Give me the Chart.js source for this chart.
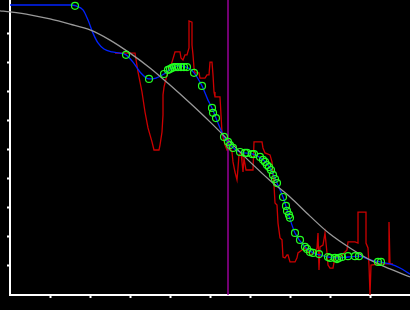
<!DOCTYPE html>
<html>
<head>
<meta charset="utf-8">
<script src="https://cdn.jsdelivr.net/npm/chart.js@4"></script>
<style>
  html, body { margin: 0; padding: 0; background: #000; }
  #wrap { width: 410px; height: 310px; }
</style>
</head>
<body>
<div id="wrap"><canvas id="fitChart"></canvas></div>
<script>
// smooth reference curve (grey)
const greyX = [-0.25, 0, 0.5, 1, 1.5, 2, 2.5, 3, 3.5, 4, 4.5, 5, 5.5, 6, 6.5, 7, 7.5, 8, 8.5, 9, 9.5, 10];
const greyY = [9.80, 9.76, 9.66, 9.52, 9.34, 9.14, 8.79, 8.34, 7.83, 7.24, 6.62, 5.97, 5.28, 4.59, 3.95, 3.38, 2.72, 2.10, 1.62, 1.21, 0.90, 0.62];

// fitted curve (blue)
const blueX = [0, 1.5, 1.65, 1.825, 1.95, 2.075, 2.2, 2.35, 2.55, 2.75, 2.9, 3.075, 3.25, 3.475, 3.65, 3.85, 4.05, 4.25, 4.45, 4.6, 4.8, 4.95, 5.05, 5.15, 5.25, 5.35, 5.5, 5.75, 6.075, 6.325, 6.5, 6.675, 6.825, 6.975, 7.125, 7.375, 7.575, 7.75, 8.125, 8.45, 8.725, 9.0, 9.25, 9.5, 9.75, 10];
const blueY = [10.0, 10.0, 9.97, 9.83, 9.48, 9.03, 8.69, 8.48, 8.38, 8.34, 8.28, 8.03, 7.69, 7.45, 7.48, 7.62, 7.83, 7.90, 7.83, 7.66, 7.21, 6.72, 6.45, 6.10, 5.76, 5.45, 5.17, 4.93, 4.86, 4.66, 4.38, 3.86, 3.38, 2.72, 2.14, 1.66, 1.45, 1.38, 1.28, 1.31, 1.34, 1.21, 1.14, 1.07, 0.93, 0.72];

// measured points (green circles)
const pointX = [1.625, 2.9, 3.475, 3.85, 3.95, 4.0, 4.05, 4.1, 4.15, 4.2, 4.275, 4.35, 4.425, 4.6, 4.8, 5.05, 5.075, 5.15, 5.35, 5.45, 5.5, 5.575, 5.75, 5.875, 5.925, 6.05, 6.1, 6.25, 6.325, 6.375, 6.425, 6.475, 6.525, 6.575, 6.625, 6.675, 6.825, 6.9, 6.925, 6.975, 7.0, 7.125, 7.25, 7.375, 7.425, 7.5, 7.575, 7.725, 7.95, 8.0, 8.125, 8.175, 8.225, 8.3, 8.45, 8.625, 8.725, 9.2, 9.275];
const pointY = [9.97, 8.28, 7.45, 7.62, 7.76, 7.79, 7.83, 7.86, 7.86, 7.86, 7.86, 7.86, 7.86, 7.66, 7.21, 6.45, 6.28, 6.10, 5.45, 5.28, 5.17, 5.07, 4.93, 4.90, 4.90, 4.86, 4.86, 4.76, 4.66, 4.59, 4.48, 4.41, 4.31, 4.14, 4.00, 3.86, 3.38, 3.07, 2.90, 2.76, 2.66, 2.14, 1.90, 1.66, 1.59, 1.48, 1.45, 1.41, 1.31, 1.28, 1.28, 1.24, 1.28, 1.31, 1.34, 1.34, 1.34, 1.14, 1.14];

// raw signal (red)
const rawX = [2.625, 3.125, 3.2, 3.3, 3.375, 3.45, 3.55, 3.6, 3.725, 3.75, 3.8, 3.825, 3.825, 3.85, 3.875, 3.925, 4.05, 4.125, 4.25, 4.275, 4.325, 4.375, 4.425, 4.475, 4.475, 4.55, 4.55, 4.575, 4.6, 4.625, 4.725, 4.75, 4.875, 4.925, 4.975, 5.0, 5.05, 5.075, 5.1, 5.125, 5.25, 5.275, 5.3, 5.375, 5.425, 5.5, 5.55, 5.575, 5.625, 5.675, 5.7, 5.725, 5.775, 5.8, 5.825, 5.85, 5.9, 6.075, 6.1, 6.2, 6.3, 6.325, 6.375, 6.5, 6.55, 6.575, 6.6, 6.625, 6.675, 6.7, 6.75, 6.8, 6.825, 6.875, 6.925, 6.95, 7.0, 7.125, 7.175, 7.2, 7.3, 7.375, 7.425, 7.5, 7.625, 7.675, 7.7, 7.725, 7.75, 7.825, 7.875, 7.925, 7.95, 8.0, 8.075, 8.125, 8.25, 8.425, 8.45, 8.625, 8.7, 8.7, 8.9, 8.9, 8.95, 8.975, 9.0, 9.025, 9.25, 9.475, 9.475, 9.5, 9.575];
const rawY = [8.34, 8.34, 7.69, 7.00, 6.31, 5.76, 5.28, 5.00, 5.00, 5.17, 5.62, 6.21, 6.90, 7.17, 7.31, 7.59, 8.03, 8.38, 8.38, 8.17, 8.10, 8.28, 8.28, 8.52, 9.45, 9.41, 8.62, 8.28, 7.83, 7.66, 7.66, 7.48, 7.48, 7.59, 7.59, 8.03, 8.03, 7.59, 7.00, 6.83, 6.83, 6.21, 5.59, 5.17, 5.00, 5.07, 4.93, 4.59, 4.24, 3.97, 4.38, 4.83, 4.90, 4.59, 4.24, 4.72, 4.31, 4.31, 5.28, 5.28, 5.28, 5.07, 4.90, 4.83, 4.59, 4.14, 3.79, 3.17, 3.10, 2.48, 1.97, 1.90, 1.31, 1.28, 1.38, 1.38, 1.14, 1.14, 1.28, 1.45, 1.55, 1.62, 1.55, 1.38, 1.48, 1.62, 2.14, 0.86, 1.66, 1.72, 2.14, 1.45, 1.03, 0.93, 0.93, 1.31, 1.31, 1.55, 1.83, 1.83, 1.79, 2.86, 2.86, 1.79, 1.62, 1.03, 0.00, 1.03, 1.07, 1.07, 2.52, 1.07, 1.07];

// cursor position (purple)
const markerX = 5.45;

const yTop = 10.172;

function pts(xs, ys) {
    return xs.map((x, i) => ({ x: x, y: ys[i] }));
}

const keepTicks = (scale) => {
    scale.ticks = scale.ticks.filter(t => t.value > 0 && t.value < 10);
};

const ctx = document.getElementById('fitChart').getContext('2d');
const fitChart = new Chart(ctx, {
    type: 'scatter',
    data: {
        datasets: [{
            label: 'Points',
            data: pts(pointX, pointY),
            showLine: false,
            pointRadius: 3.5,
            pointBorderWidth: 1.2,
            pointBorderColor: '#22ff22',
            pointBackgroundColor: 'transparent'
        }, {
            label: 'Cursor',
            data: [{ x: markerX, y: 0 }, { x: markerX, y: yTop }],
            showLine: true,
            borderColor: '#990099',
            borderWidth: 1.5,
            pointRadius: 0
        }, {
            label: 'Reference',
            data: pts(greyX, greyY),
            showLine: true,
            borderColor: '#999999',
            borderWidth: 1.3,
            pointRadius: 0,
            cubicInterpolationMode: 'monotone',
            clip: false
        }, {
            label: 'Fit',
            data: pts(blueX, blueY),
            showLine: true,
            borderColor: '#0022ff',
            borderWidth: 1.3,
            pointRadius: 0,
            cubicInterpolationMode: 'monotone'
        }, {
            label: 'Raw',
            data: pts(rawX, rawY),
            showLine: true,
            borderColor: '#cc0000',
            borderWidth: 1.3,
            pointRadius: 0,
            tension: 0
        }]
    },
    options: {
        responsive: true,
        maintainAspectRatio: false,
        animation: false,
        layout: {
            autoPadding: false,
            padding: { left: 7, right: 0, top: 0, bottom: 12 }
        },
        scales: {
            x: {
                type: 'linear',
                min: 0,
                max: 10,
                afterBuildTicks: keepTicks,
                ticks: { display: false, stepSize: 1 },
                grid: { drawOnChartArea: false, tickLength: 3, tickColor: '#ffffff', tickWidth: 2 },
                border: { color: '#ffffff', width: 2 }
            },
            y: {
                type: 'linear',
                min: 0,
                max: yTop,
                afterBuildTicks: keepTicks,
                ticks: { display: false, stepSize: 1 },
                grid: { drawOnChartArea: false, tickLength: 3, tickColor: '#ffffff', tickWidth: 2 },
                border: { color: '#ffffff', width: 2 }
            }
        },
        plugins: {
            legend: { display: false },
            tooltip: { enabled: false }
        }
    }
});
</script>
</body>
</html>
